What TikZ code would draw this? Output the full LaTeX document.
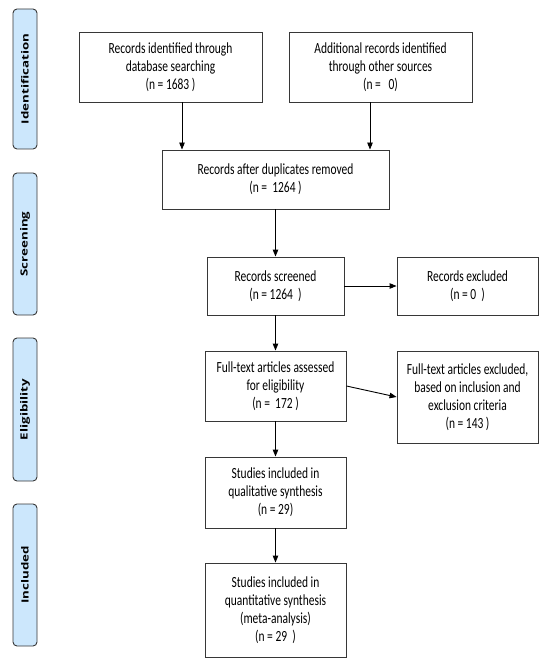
\documentclass[tikz,border=0pt]{standalone}
\usepackage{fontspec}
\setmainfont[FakeStretch=0.74]{Carlito}
\newfontfamily\labfont{Open Sans}
\usetikzlibrary{arrows.meta}
\definecolor{phase}{RGB}{204,231,252}
\definecolor{edge}{RGB}{55,55,55}
\newcommand{\phasetxt}[1]{\scalebox{1}[0.74]{#1}}
\begin{document}
\begin{tikzpicture}[x=1pt,y=-1pt,
  flowbox/.style={draw=edge,line width=0.9pt,fill=white,inner sep=0pt,align=center,
    font=\fontsize{15.5}{18}\selectfont},
  phasebox/.style={draw=edge,line width=0.9pt,fill=phase,rounded corners=4pt,inner sep=0pt},
  phasetext/.style={rotate=90,inner sep=0pt,font=\labfont\bfseries\fontsize{13.3}{15}\selectfont},
  arr/.style={-{Triangle[length=7pt,width=5.5pt]},line width=0.9pt,draw=black}]
\useasboundingbox (0,0) rectangle (550,668);
% phase labels
\node[phasebox,minimum width=24,minimum height=140] (pid) at (25,79) {};
\node[phasetext] (tid) at (pid.center) {\phasetxt{Identification}};
\node[phasebox,minimum width=24,minimum height=142] (psc) at (25,244) {};
\node[phasetext] (tsc) at (psc.center) {\phasetxt{Screening}};
\node[phasebox,minimum width=24,minimum height=143] (pel) at (25,409.5) {};
\node[phasetext] (tel) at (pel.center) {\phasetxt{Eligibility}};
\node[phasebox,minimum width=24,minimum height=142] (pin) at (25,575) {};
\node[phasetext] (tin) at (pin.center) {\phasetxt{Included}};
% boxes
\node[flowbox,minimum width=183,minimum height=70] (b1) at (170.5,67) {Records identified through\\database searching\\(n = 1683 )};
\node[flowbox,minimum width=183,minimum height=70] (b2) at (380.5,67) {Additional records identified\\through other sources\\(n = \ \ 0)};
\node[flowbox,minimum width=227,minimum height=59] (b3) at (275.5,179.5) {Records after duplicates removed\\(n = \ 1264 )};
\node[flowbox,minimum width=137,minimum height=58] (b4) at (275.5,286) {Records screened\\(n = 1264 \ )};
\node[flowbox,minimum width=141,minimum height=58] (b5) at (467.5,286) {Records excluded\\(n = 0 \ )};
\node[flowbox,minimum width=141,minimum height=70] (b6) at (275.5,386) {Full-text articles assessed\\for eligibility\\(n = \ 172 )};
\node[flowbox,minimum width=141,minimum height=92] (b7) at (467.5,397) {Full-text articles excluded,\\based on inclusion and\\exclusion criteria\\(n = 143 )};
\node[flowbox,minimum width=141,minimum height=71] (b8) at (275.5,492.5) {Studies included in\\qualitative synthesis\\(n = 29)};
\node[flowbox,minimum width=141,minimum height=94] (b9) at (275.5,610) {Studies included in\\quantitative synthesis\\(meta-analysis)\\(n = 29 \ )};
% connectors
\draw[arr] (b1.south -| 182,0) -- (b3.north -| 182,0);
\draw[arr] (b2.south -| 370,0) -- (b3.north -| 370,0);
\draw[arr] (b3.south -| b4.north) -- (b4.north);
\draw[arr] (b4.east) -- (b5.west);
\draw[arr] (b4.south) -- (b6.north);
\draw[arr] (b6.east) -- (b7.west);
\draw[arr] (b6.south) -- (b8.north);
\draw[arr] (b8.south) -- (b9.north);
\end{tikzpicture}
\end{document}
